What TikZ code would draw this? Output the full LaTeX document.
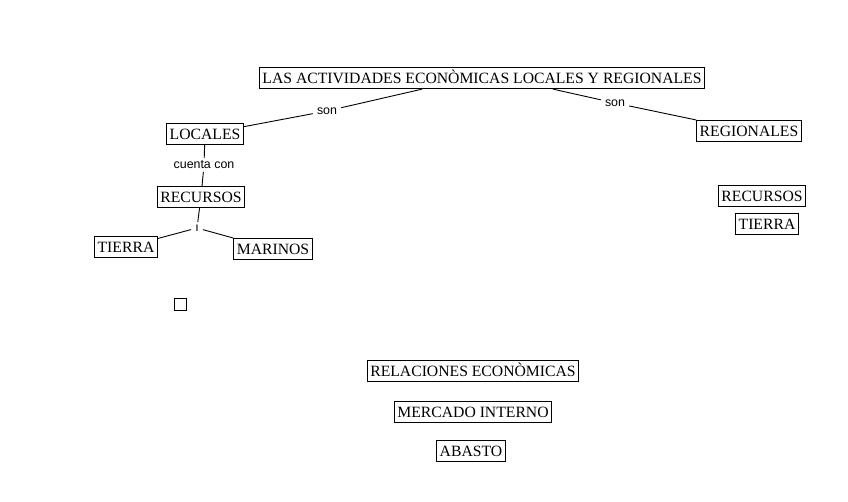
\documentclass[tikz,border=0pt]{standalone}
\usepackage{fontspec}
\setmainfont{Liberation Serif}
\newfontfamily\lblfont{Liberation Sans}
\begin{document}
\begin{tikzpicture}[x=1pt,y=-1pt,
  concept/.style={draw,line width=0.8pt,inner xsep=3pt,inner ysep=0pt,minimum height=21.5pt,
    font=\fontsize{15.7}{17}\selectfont,text height=10.4pt,text depth=0pt},
  linklbl/.style={inner xsep=4pt,inner ysep=2.5pt,font=\lblfont\fontsize{12.4}{13}\selectfont},
  link/.style={line width=0.9pt}]
\useasboundingbox[fill=white] (0,0) rectangle (848,502);
\node[concept] (title) at (482,78) {LAS ACTIVIDADES ECONÒMICAS LOCALES Y REGIONALES};
\node[concept] (loc) at (205,134) {LOCALES};
\node[concept] (reg) at (749,131) {REGIONALES};
\node[concept] (recl) at (201,197) {RECURSOS};
\node[concept] (tierl) at (126,247) {TIERRA};
\node[concept] (mar) at (273,249) {MARINOS};
\node[concept] (recr) at (762,196) {RECURSOS};
\node[concept] (tierr) at (767,224) {TIERRA};
\node[draw,line width=0.8pt,minimum size=12pt,inner sep=0pt] (sq) at (180,304) {};
\node[concept] (rel) at (473,371) {RELACIONES ECONÒMICAS};
\node[concept] (merc) at (473,412) {MERCADO INTERNO};
\node[concept] (aba) at (471,451) {ABASTO};

\node[linklbl] (son1) at (327,111) {son};
\node[linklbl] (son2) at (615,103) {son};
\node[linklbl] (cc) at (204,165) {cuenta con};
\node[linklbl] (yy) at (197,228) {ı};

\draw[link] (title.south -| 422,0) -- (son1);
\draw[link] (son1) -- (loc);
\draw[link] (title.south -| 553,0) -- (son2);
\draw[link] (son2) -- (reg);
\draw[link] (loc) -- (cc);
\draw[link] (cc) -- (recl);
\draw[link] (recl) -- (yy);
\draw[link] (yy) -- (tierl);
\draw[link] (yy) -- (mar);
\end{tikzpicture}
\end{document}
